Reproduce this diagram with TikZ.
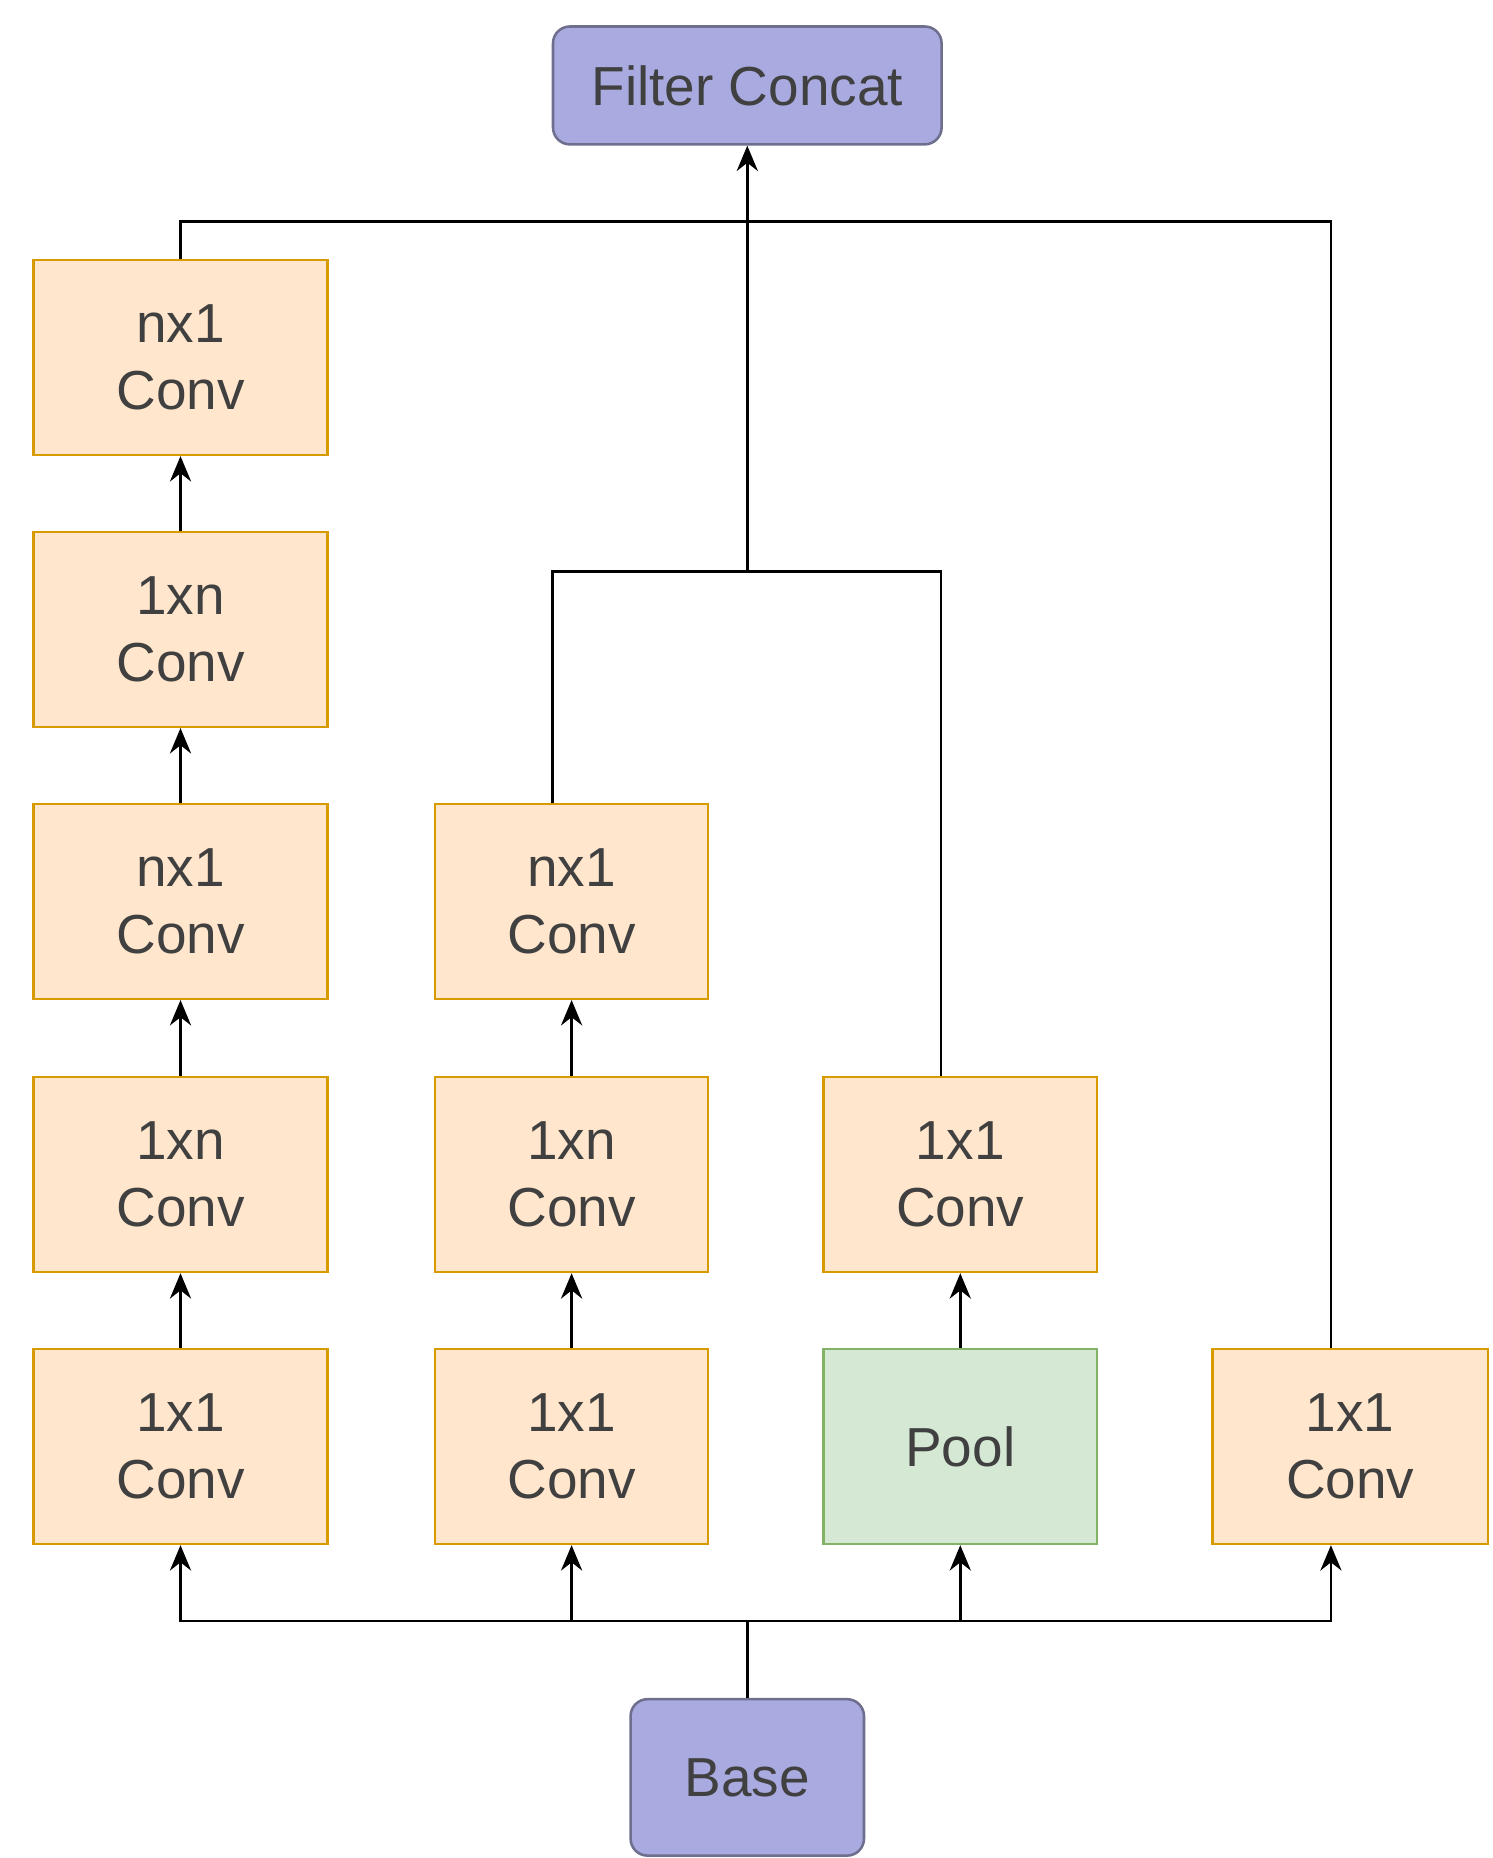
\documentclass[tikz,border=0pt]{standalone}
\usepackage{fontspec}
\setmainfont{Liberation Sans}
\usetikzlibrary{arrows.meta}
\definecolor{ofill}{HTML}{FFE6CC}
\definecolor{odraw}{HTML}{D79B00}
\definecolor{gfill}{HTML}{D5E8D4}
\definecolor{gdraw}{HTML}{82B366}
\definecolor{pfill}{HTML}{A9AADF}
\definecolor{pdraw}{HTML}{6E6E8E}
\begin{document}
\begin{tikzpicture}[x=0.02cm,y=-0.02cm,
  box/.style={draw=odraw,fill=ofill,line width=1.2pt,minimum height=3.24cm,align=center,inner sep=0pt,font=\fontsize{26}{32}\selectfont,text=black!75},
  wa/.style={box,minimum width=4.88cm},
  wb/.style={box,minimum width=4.54cm},
  pool/.style={box,draw=gdraw,fill=gfill},
  pur/.style={draw=pdraw,fill=pfill,line width=1.2pt,rounded corners=8pt,inner sep=0pt,font=\fontsize{26}{32}\selectfont,text=black!75},
  ln/.style={line width=1.3pt},
  ar/.style={ln,-{Stealth[length=12pt,width=10pt]}}]
\useasboundingbox (0,0) rectangle (1240,1544);
\node[pur,minimum width=6.46cm,minimum height=1.96cm] (fc) at (621,71) {Filter Concat};
\node[pur,minimum width=3.88cm,minimum height=2.6cm] (base) at (621,1477) {Base};
\node[wa] (a1) at (150,297) {nx1\\Conv};
\node[wa] (a2) at (150,523) {1xn\\Conv};
\node[wa] (a3) at (150,749) {nx1\\Conv};
\node[wa] (a4) at (150,976) {1xn\\Conv};
\node[wa] (a5) at (150,1202) {1x1\\Conv};
\node[wb] (b1) at (475,749) {nx1\\Conv};
\node[wb] (b2) at (475,976) {1xn\\Conv};
\node[wb] (b3) at (475,1202) {1x1\\Conv};
\node[wb] (c1) at (798,976) {1x1\\Conv};
\node[wb,pool] (c2) at (798,1202) {Pool};
\node[box,minimum width=4.58cm] (d1) at (1122,1202) {1x1\\Conv};
\coordinate (bus) at (621,1347);
\coordinate (top) at (621,184);
\coordinate (mid) at (621,475);
\draw[ln] (base.north) -- (bus);
\draw[ar] (bus) -| (a5.south);
\draw[ar] (bus) -| (b3.south);
\draw[ar] (bus) -| (c2.south);
\draw[ar] (bus) -| ([xshift=-16*0.02cm]d1.south);
\draw[ar] (a5) -- (a4);
\draw[ar] (a4) -- (a3);
\draw[ar] (a3) -- (a2);
\draw[ar] (a2) -- (a1);
\draw[ar] (b3) -- (b2);
\draw[ar] (b2) -- (b1);
\draw[ar] (c2) -- (c1);
\draw[ln] ([xshift=-16*0.02cm]b1.north) |- (mid) -| ([xshift=-16*0.02cm]c1.north);
\draw[ln] (a1.north) |- (top) -| ([xshift=-16*0.02cm]d1.north);
\draw[ar] (mid) -- (fc.south);
\end{tikzpicture}
\end{document}
